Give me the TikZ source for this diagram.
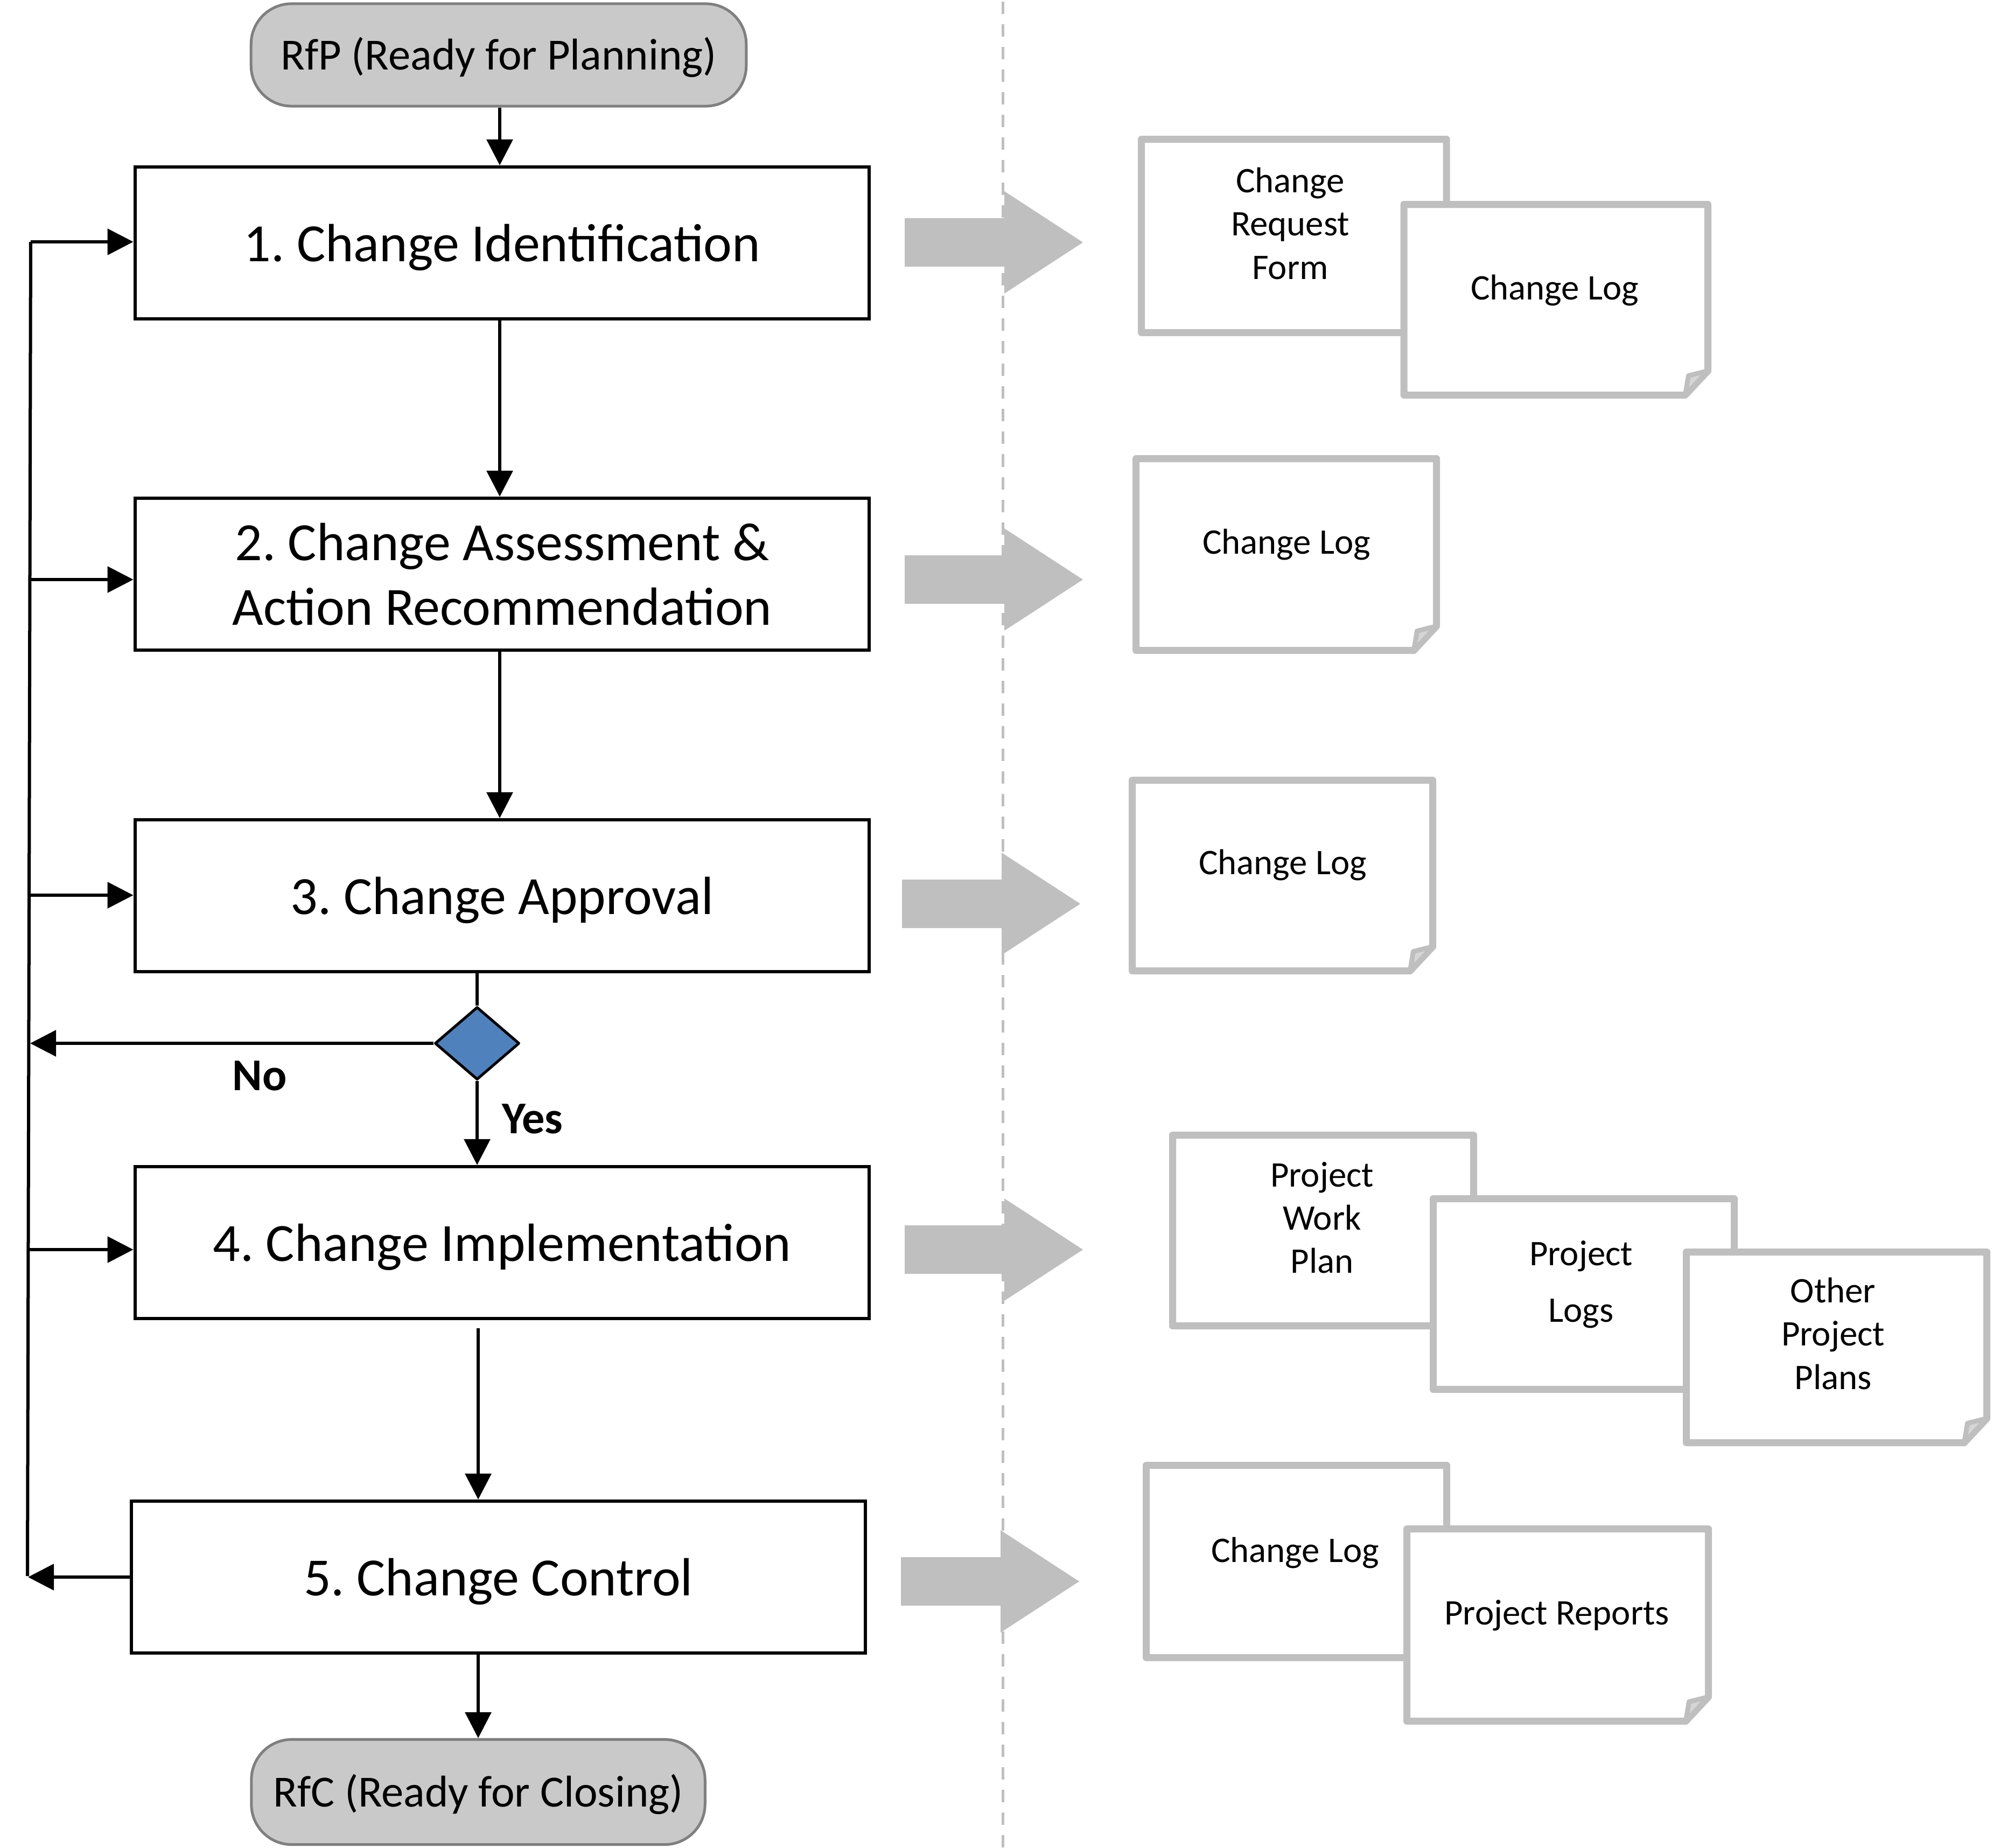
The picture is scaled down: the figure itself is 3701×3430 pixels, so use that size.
\documentclass[tikz,border=0pt]{standalone}
\usepackage{fontspec}
\setmainfont{Carlito}
\usetikzlibrary{arrows.meta,shapes.geometric,calc}
\definecolor{docgray}{HTML}{BFBFBF}
\definecolor{flapgray}{HTML}{D6D6D6}
\definecolor{termfill}{HTML}{C9C9C9}
\definecolor{termdraw}{HTML}{7F7F7F}
\definecolor{diablue}{HTML}{4F81BD}
\newcommand\docshape[4]{%
  \filldraw[docline] (#1,#2) -- (#3,#2) -- (#3,#4-45) -- (#3-42,#4) -- (#1,#4) -- cycle;
  \filldraw[docflap] (#3,#4-45) -- (#3-36,#4-36) -- (#3-42,#4) -- cycle;}
\newcommand\blockarrow[2]{%
  \fill[docgray] (#1,#2-45) -- (#1+185,#2-45) -- (#1+185,#2-95) -- (#1+331,#2) -- (#1+185,#2+95) -- (#1+185,#2+45) -- (#1,#2+45) -- cycle;}
\begin{document}
\frenchspacing
\begin{tikzpicture}[x=0.01cm,y=-0.01cm,
  stepbox/.style={draw=black,fill=white,line width=0.06cm,minimum width=13.63cm,minimum height=2.82cm,align=center,inner sep=0pt,font=\fontsize{28.4}{34.2}\selectfont},
  oneline/.style={text height=25pt,text depth=5.6pt},
  term/.style={draw=termdraw,fill=termfill,line width=0.05cm,rounded corners=0.75cm,inner sep=0pt,text height=20pt,text depth=4.2pt,font=\fontsize{23.5}{28}\selectfont},
  conn/.style={line width=0.06cm,-{Triangle[length=0.48cm,width=0.48cm]}},
  plain/.style={line width=0.06cm},
  docline/.style={draw=docgray,fill=white,line width=0.13cm,line join=round},
  docflap/.style={draw=docgray,fill=flapgray,line width=0.09cm,line join=round},
  doctext/.style={align=center,inner sep=0pt,font=\fontsize{19}{22.8}\selectfont},
  yesno/.style={inner sep=0pt,font=\bfseries\fontsize{24}{29}\selectfont}]
\useasboundingbox (0,0) rectangle (3701,3430);
% separator
\draw[docgray,line width=0.05cm,dash pattern=on 0.23cm off 0.19cm] (1862,3) -- (1862,3430);
% terminals
\node[term,minimum width=9.19cm,minimum height=1.90cm] (rfp) at (926,102) {RfP (Ready for Planning)};
\node[term,minimum width=8.42cm,minimum height=1.95cm] (rfc) at (888,3327) {RfC (Ready for Closing)};
% steps
\node[stepbox,oneline] (s1) at (932.5,451) {1. Change Identification};
\node[stepbox] (s2) at (932.5,1066) {2. Change Assessment \&\\Action Recommendation};
\node[stepbox,oneline] (s3) at (932.5,1663) {3. Change Approval};
\node[stepbox,oneline] (s4) at (932.5,2307) {4. Change Implementation};
\node[stepbox,oneline] (s5) at (925.5,2928) {5. Change Control};
% decision
\node[diamond,draw=black,fill=diablue,line width=0.05cm,line join=round,minimum width=1.57cm,minimum height=1.35cm,inner sep=0pt] (dec) at (886,1937) {};
\node[yesno] (no) at (482,1997) {No};
\node[yesno] (yes) at (989,2077) {Yes};
% main flow
\coordinate (mainx) at (928,0);
\draw[conn] (rfp.south -| mainx) -- (mainx |- s1.north);
\draw[conn] (s1.south -| mainx) -- (mainx |- s2.north);
\draw[conn] (s2.south -| mainx) -- (mainx |- s3.north);
\draw[plain] (dec.north |- s3.south) -- (dec.north);
\draw[conn] (dec.south) -- (dec.south |- s4.north);
\coordinate (s4out) at (888,2466);
\draw[conn] (s4out) -- (s4out |- s5.north);
\draw[conn] (s5.south -| rfc.north) -- (rfc.north);
% feedback loop
\coordinate (fbtop) at (57,449);
\coordinate (fbbot) at (51,2926);
\coordinate (fb2) at (55,1076);
\coordinate (fb3) at (54,1662);
\coordinate (fb4) at (52,2320);
\coordinate (noend) at (56,1937);
\coordinate (s5end) at (52,2928);
\draw[plain] (fbtop) -- (fbbot);
\draw[conn] (fbtop) -- (fbtop -| s1.west);
\draw[conn] (fb2) -- (fb2 -| s2.west);
\draw[conn] (fb3) -- (fb3 -| s3.west);
\draw[conn] (fb4) -- (fb4 -| s4.west);
\draw[conn] (dec.west) -- (noend);
\draw[conn] (s5.west) -- (s5end);
% block arrows
\blockarrow{1680}{450}
\blockarrow{1680}{1076}
\blockarrow{1675}{1678}
\blockarrow{1680}{2320}
\blockarrow{1673}{2936}
% documents row 1
\docshape{2119.5}{258.5}{2686}{617.5}
\node[doctext] (d1a) at (2396,415) {Change\\Request\\Form};
\docshape{2607}{379.5}{3171.5}{733.5}
\node[doctext] (d1b) at (2887,539) {Change Log};
% row 2
\docshape{2109.5}{851.5}{2667.5}{1207.5}
\node[doctext] (d2) at (2389,1011) {Change Log};
% row 3
\docshape{2102.5}{1448.5}{2660.5}{1802.5}
\node[doctext] (d3) at (2382,1606) {Change Log};
% row 4
\docshape{2177.5}{2107.5}{2736.5}{2461.5}
\node[doctext] (d4a) at (2455,2261) {Project\\Work\\Plan};
\docshape{2661.5}{2225.5}{3220.5}{2579.5}
\node[doctext] (d4b) at (2936,2385) {Project\\[7pt]Logs};
\docshape{3131.5}{2324.5}{3689.5}{2678.5}
\node[doctext] (d4c) at (3404,2476) {Other\\Project\\Plans};
% row 5
\docshape{2128.5}{2720.5}{2686.5}{3077.5}
\node[doctext] (d5a) at (2405,2883) {Change Log};
\docshape{2612.5}{2838.5}{3172.5}{3195.5}
\node[doctext] (d5b) at (2891,2999) {Project Reports};
\end{tikzpicture}
\end{document}
